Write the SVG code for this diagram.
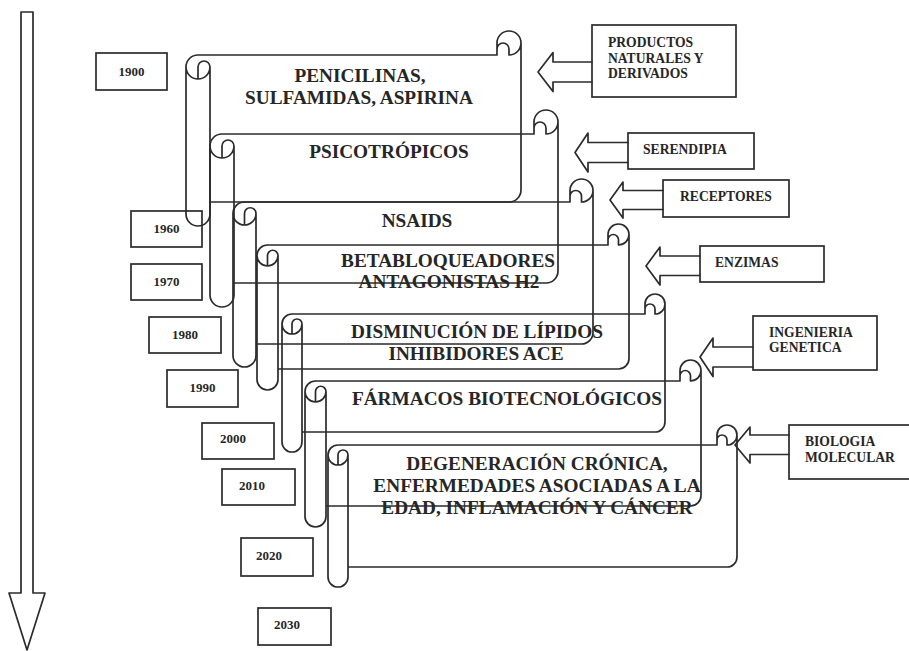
<svg xmlns="http://www.w3.org/2000/svg" width="909" height="651" viewBox="0 0 909 651">
<style>
.ln{fill:none;stroke:#2b2b2b;stroke-width:1.7;stroke-linejoin:round;stroke-linecap:round}
.bx{fill:none;stroke:#2b2b2b;stroke-width:1.7}
.big{font-family:"Liberation Serif","Times New Roman",serif;font-weight:bold;font-size:19.3px;fill:#262626;text-anchor:middle}
.yr{font-family:"Liberation Serif","Times New Roman",serif;font-weight:bold;font-size:13px;fill:#262626;text-anchor:middle}
.lb{font-family:"Liberation Serif","Times New Roman",serif;font-weight:bold;font-size:13.6px;fill:#262626}
</style>
<rect width="909" height="651" fill="#fff"/>
<g id="timeline-arrow">
<polygon class="ln" points="21,12 33,12 33,593 45,593 27,650 9,593 21,593"/>
</g>
<g id="scroll-1900">
<path class="ln" d="M186,67 A12,12 0 0 1 198,55 L497,55 L497,43 A12,12 0 0 1 521,43 L521,190 A12,12 0 0 1 509,202 L210,202 L210,214 A12,12 0 0 1 186,214 Z M509,55 A12,12 0 0 0 521,43 M509,55 L509,49 A6,6 0 0 0 497,49 M198,79 L198,67 A6,6 0 0 1 210,67 A12,12 0 0 1 186,67 M210,67 L210,202"/>
<text class="big" x="360" y="82">PENICILINAS,</text>
<text class="big" x="359" y="104">SULFAMIDAS, ASPIRINA</text>
</g>
<g id="scroll-psicotropicos">
<path class="ln" d="M210,146 A12,12 0 0 1 222,134 L534,134 L534,122 A12,12 0 0 1 558,122 L558,271 A12,12 0 0 1 546,283 L234,283 L234,295 A12,12 0 0 1 210,295 Z M546,134 A12,12 0 0 0 558,122 M546,134 L546,128 A6,6 0 0 0 534,128 M222,158 L222,146 A6,6 0 0 1 234,146 A12,12 0 0 1 210,146 M234,146 L234,283"/>
<text class="big" x="389" y="158">PSICOTRÓPICOS</text>
</g>
<g id="scroll-nsaids">
<path class="ln" d="M233,213.5 A11.5,11.5 0 0 1 244.5,202 L570,202 L570,190.5 A11.5,11.5 0 0 1 593,190.5 L593,332.5 A11.5,11.5 0 0 1 581.5,344 L256,344 L256,355.5 A11.5,11.5 0 0 1 233,355.5 Z M581.5,202 A11.5,11.5 0 0 0 593,190.5 M581.5,202 L581.5,196.25 A5.75,5.75 0 0 0 570,196.25 M244.5,225 L244.5,213.5 A5.75,5.75 0 0 1 256,213.5 A11.5,11.5 0 0 1 233,213.5 M256,213.5 L256,344"/>
<text class="big" x="417" y="227">NSAIDS</text>
</g>
<g id="scroll-betabloqueadores">
<path class="ln" d="M257,255.5 A10.5,10.5 0 0 1 267.5,245 L608,245 L608,234.5 A10.5,10.5 0 0 1 629,234.5 L629,358.5 A10.5,10.5 0 0 1 618.5,369 L278,369 L278,379.5 A10.5,10.5 0 0 1 257,379.5 Z M618.5,245 A10.5,10.5 0 0 0 629,234.5 M618.5,245 L618.5,239.75 A5.25,5.25 0 0 0 608,239.75 M267.5,266 L267.5,255.5 A5.25,5.25 0 0 1 278,255.5 A10.5,10.5 0 0 1 257,255.5 M278,255.5 L278,369"/>
<text class="big" x="448" y="267">BETABLOQUEADORES</text>
<text class="big" x="449" y="288">ANTAGONISTAS H2</text>
</g>
<g id="scroll-lipidos">
<path class="ln" d="M282,324 A10,10 0 0 1 292,314 L645,314 L645,304 A10,10 0 0 1 665,304 L665,422 A10,10 0 0 1 655,432 L302,432 L302,442 A10,10 0 0 1 282,442 Z M655,314 A10,10 0 0 0 665,304 M655,314 L655,309 A5,5 0 0 0 645,309 M292,334 L292,324 A5,5 0 0 1 302,324 A10,10 0 0 1 282,324 M302,324 L302,432"/>
<text class="big" x="477" y="338">DISMINUCIÓN DE LÍPIDOS</text>
<text class="big" x="476" y="360">INHIBIDORES ACE</text>
</g>
<g id="scroll-biotecnologicos">
<path class="ln" d="M305,391.5 A10.5,10.5 0 0 1 315.5,381 L680,381 L680,370.5 A10.5,10.5 0 0 1 701,370.5 L701,495.5 A10.5,10.5 0 0 1 690.5,506 L326,506 L326,516.5 A10.5,10.5 0 0 1 305,516.5 Z M690.5,381 A10.5,10.5 0 0 0 701,370.5 M690.5,381 L690.5,375.75 A5.25,5.25 0 0 0 680,375.75 M315.5,402 L315.5,391.5 A5.25,5.25 0 0 1 326,391.5 A10.5,10.5 0 0 1 305,391.5 M326,391.5 L326,506"/>
<text class="big" x="507" y="405">FÁRMACOS BIOTECNOLÓGICOS</text>
</g>
<g id="scroll-degeneracion">
<path class="ln" d="M328,455 A10,10 0 0 1 338,445 L717,445 L717,435 A10,10 0 0 1 737,435 L737,557 A10,10 0 0 1 727,567 L348,567 L348,577 A10,10 0 0 1 328,577 Z M727,445 A10,10 0 0 0 737,435 M727,445 L727,440 A5,5 0 0 0 717,440 M338,465 L338,455 A5,5 0 0 1 348,455 A10,10 0 0 1 328,455 M348,455 L348,567"/>
<text class="big" x="537" y="470">DEGENERACIÓN CRÓNICA,</text>
<text class="big" x="537" y="492">ENFERMEDADES ASOCIADAS A LA</text>
<text class="big" x="537" y="514">EDAD, INFLAMACIÓN Y CÁNCER</text>
</g>
<g id="year-1900"><rect class="bx" x="96" y="53" width="71" height="37"/><text class="yr" x="131.5" y="76">1900</text></g>
<g id="year-1960"><rect class="bx" x="131" y="211" width="71" height="36"/><text class="yr" x="166.5" y="233">1960</text></g>
<g id="year-1970"><rect class="bx" x="131" y="264" width="71" height="36"/><text class="yr" x="166.5" y="286">1970</text></g>
<g id="year-1980"><rect class="bx" x="149" y="317" width="72" height="36"/><text class="yr" x="185" y="339">1980</text></g>
<g id="year-1990"><rect class="bx" x="167" y="370" width="71" height="37"/><text class="yr" x="202.5" y="392">1990</text></g>
<g id="year-2000"><rect class="bx" x="202" y="423" width="72" height="36"/><text class="yr" x="233" y="443">2000</text></g>
<g id="year-2010"><rect class="bx" x="222" y="469" width="73" height="36"/><text class="yr" x="252" y="490">2010</text></g>
<g id="year-2020"><rect class="bx" x="241" y="538" width="72" height="38"/><text class="yr" x="269" y="560">2020</text></g>
<g id="year-2030"><rect class="bx" x="258" y="608" width="73" height="37"/><text class="yr" x="287" y="629">2030</text></g>
<g id="connectors">
<polyline class="ln" points="592,62 553,62 553,52.5 538,72 553,91.5 553,82 592,82"/>
<polyline class="ln" points="628,142.5 588,142.5 588,133 575,152.5 588,172 588,162.5 628,162.5"/>
<polyline class="ln" points="663,190.5 623,190.5 623,182 610,200 623,218 623,209.5 663,209.5"/>
<polyline class="ln" points="700,256 660,256 660,247 646,266 660,285 660,275.5 700,275.5"/>
<polyline class="ln" points="753,347 713,347 713,338 700,357 713,376.5 713,367 753,367"/>
<polyline class="ln" points="789,435 750,435 750,427 735,445 750,463 750,454.5 789,454.5"/>
</g>
<g id="label-productos"><rect class="bx" x="592" y="25" width="144" height="72"/><text class="lb" x="608" y="47">PRODUCTOS</text><text class="lb" x="608" y="63">NATURALES Y</text><text class="lb" x="608" y="78">DERIVADOS</text></g>
<g id="label-serendipia"><rect class="bx" x="628" y="133" width="126" height="36"/><text class="lb" x="643" y="154">SERENDIPIA</text></g>
<g id="label-receptores"><rect class="bx" x="663" y="180" width="126" height="37"/><text class="lb" x="680" y="201">RECEPTORES</text></g>
<g id="label-enzimas"><rect class="bx" x="700" y="246" width="124" height="36"/><text class="lb" x="715" y="267">ENZIMAS</text></g>
<g id="label-ingenieria"><rect class="bx" x="753" y="316" width="124" height="54"/><text class="lb" x="769" y="337">INGENIERIA</text><text class="lb" x="769" y="352">GENETICA</text></g>
<g id="label-biologia"><rect class="bx" x="789" y="425" width="126" height="54"/><text class="lb" x="805" y="446">BIOLOGIA</text><text class="lb" x="805" y="462">MOLECULAR</text></g>
</svg>
